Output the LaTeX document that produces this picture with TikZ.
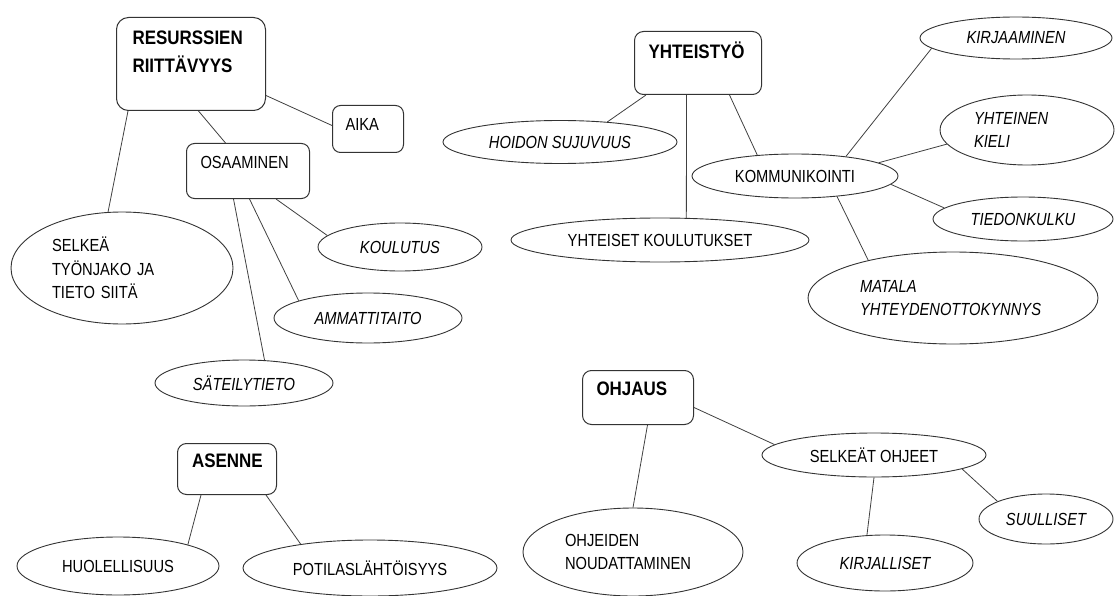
\documentclass[tikz,border=0pt]{standalone}
\usepackage{fontspec}
\setmainfont{Liberation Sans}[FakeStretch=0.84]
\newfontfamily\headfont{Liberation Sans}[FakeStretch=0.87]
\usepackage{tikz}
\usetikzlibrary{shapes.geometric}
\usepackage{xcolor}

\newcommand{\itemfont}{\fontsize{17.5}{23.5}\selectfont}
\newcommand{\topicfont}{\headfont\bfseries\fontsize{19.5}{28}\selectfont}

\begin{document}
\begin{tikzpicture}[x=1pt, y=-1pt]
	\tikzstyle{topic} = [rectangle, draw=black!80, line width=1pt, rounded corners=9pt,
	align=left, anchor=north west, inner ysep=0pt, font=\topicfont]
	\tikzstyle{block} = [rectangle, draw=black!80, line width=1pt, rounded corners=8pt,
	align=left, anchor=north west, inner ysep=0pt, font=\itemfont]
	\tikzstyle{oval} = [ellipse, draw=black!80, line width=0.9pt, inner sep=0pt,
	align=center, font=\itemfont]
	\tikzstyle{ovalit} = [oval, font=\itemfont\itshape]
	\tikzstyle{line} = [draw=black!75, line width=0.8pt]

	\useasboundingbox (0,0) rectangle (1115,596);

	% Resources
	\node [topic, text width=117pt, inner xsep=16pt, text height=27pt, text depth=66pt, rounded corners=12pt] (res) at (116,17) {RESURSSIEN\\RIITTÄVYYS};
	\node [block, text width=45pt, inner xsep=13pt, text height=25pt, text depth=22pt] (aika) at (332,105) {AIKA};
	\node [block, text width=95pt, inner xsep=14pt, text height=25pt, text depth=30pt] (osa) at (186,143) {OSAAMINEN};
	\node [oval, minimum width=222pt, minimum height=112pt, text width=140pt, align=left] (selk) at (122,268) {SELKEÄ\\TYÖNJAKO JA\\TIETO SIITÄ};
	\node [ovalit, minimum width=164pt, minimum height=48pt] (koul) at (400,247) {KOULUTUS};
	\node [ovalit, minimum width=188pt, minimum height=50pt] (amm) at (368,318) {AMMATTITAITO};
	\node [ovalit, minimum width=178pt, minimum height=46pt] (sat) at (244,383) {SÄTEILYTIETO};

	% Attitude
	\node [topic, text width=70pt, inner xsep=14.5pt, text height=24pt, text depth=27pt] (ase) at (177,443) {ASENNE};
	\node [oval, minimum width=202pt, minimum height=58pt] (huo) at (118,566) {HUOLELLISUUS};
	\node [oval, minimum width=254pt, minimum height=56pt] (pot) at (370,568) {POTILASLÄHTÖISYYS};

	% Cooperation
	\node [topic, text width=99pt, inner xsep=14pt, text height=27pt, text depth=36pt] (yht) at (634,31) {YHTEISTYÖ};
	\node [ovalit, minimum width=234pt, minimum height=43pt] (hoi) at (560,142) {HOIDON SUJUVUUS};
	\node [oval, minimum width=298pt, minimum height=44pt] (yks) at (660,240) {YHTEISET KOULUTUKSET};
	\node [oval, minimum width=206pt, minimum height=44pt] (kom) at (795,176) {KOMMUNIKOINTI};
	\node [ovalit, minimum width=192pt, minimum height=42pt] (kir) at (1016,38) {KIRJAAMINEN};
	\node [ovalit, minimum width=174pt, minimum height=70pt, text width=106pt, align=left] (kie) at (1027,130) {YHTEINEN\\KIELI};
	\node [ovalit, minimum width=180pt, minimum height=44pt] (tie) at (1023,219) {TIEDONKULKU};
	\node [ovalit, minimum width=290pt, minimum height=92pt, text width=186pt, align=left] (mat) at (953,298) {MATALA\\YHTEYDENOTTOKYNNYS};

	% Guidance
	\node [topic, text width=83pt, inner xsep=14pt, text height=25pt, text depth=29pt] (ohj) at (582,370) {OHJAUS};
	\node [oval, minimum width=220pt, minimum height=88pt, text width=136pt, align=left] (ohd) at (633,552) {OHJEIDEN\\NOUDATTAMINEN};
	\node [oval, minimum width=224pt, minimum height=44pt] (sel) at (874,455) {SELKEÄT OHJEET};
	\node [ovalit, minimum width=176pt, minimum height=56pt] (kil) at (885,563) {KIRJALLISET};
	\node [ovalit, minimum width=134pt, minimum height=50pt] (suu) at (1046,519) {SUULLISET};

	% connectors
	\draw [line] ([yshift=-31.5pt]res.east) -- ([yshift=3.5pt]aika.west);
	\draw [line] ([xshift=7.5pt]res.south) -- ([xshift=-22.5pt]osa.north);
	\draw [line] ([xshift=12pt]res.south west) -- (selk.104);
	\draw [line] ([xshift=-34pt]osa.south east) -- (koul.171);
	\draw [line] ([xshift=1.5pt]osa.south) -- (amm.166);
	\draw [line] ([xshift=-14.5pt]osa.south) -- (sat.48);
	%
	\draw [line] ([xshift=24pt]ase.south west) -- (huo.17);
	\draw [line] ([xshift=-11pt]ase.south east) -- (pot.161);
	%
	\draw [line] ([xshift=12pt]yht.south west) -- (hoi.23);
	\draw [line] ([xshift=-11.5pt]yht.south) -- (yks.40);
	\draw [line] ([xshift=31.5pt]yht.south) -- (kom.151);
	\draw [line] (kom.21) -- (kir.187);
	\draw [line] (kom.9) -- (kie.190);
	\draw [line] (kom.-5) -- (tie.172);
	\draw [line] (kom.-26) -- (mat.156);
	%
	\draw [line] ([xshift=9.5pt]ohj.south) -- (ohd.north);
	\draw [line] ([yshift=-10pt]ohj.east) -- (sel.174);
	\draw [line] (sel.south) -- (kil.123);
	\draw [line] (sel.-9) -- (suu.160);

\end{tikzpicture}
\end{document}
